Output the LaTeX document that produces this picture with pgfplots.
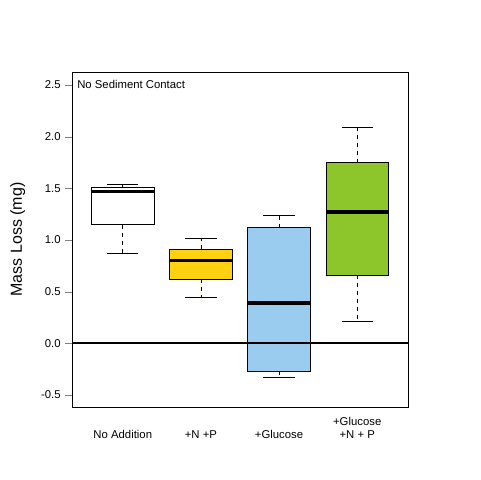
\documentclass[border=0pt]{standalone}
\usepackage{pgfplots}
\pgfplotsset{compat=1.18}
\usepgfplotslibrary{statistics}
\usepackage{fontspec}
\setmainfont{Liberation Sans}
\definecolor{cgold}{HTML}{FFD111}
\definecolor{cblue}{HTML}{99CCEE}
\definecolor{cgreen}{HTML}{8CC62B}
\begin{document}
\begin{tikzpicture}
\begin{axis}[name=ax, scale only axis, width=252pt, height=251.25pt,
  xmin=0.35, xmax=4.65, ymin=-0.616, ymax=2.626,
  xtick={1,2,3,4}, xticklabels={No Addition,+N +P,+Glucose,{+Glucose\\+N + P}},
  xticklabel style={align=center, anchor=south, yshift=-22pt, font=\fontsize{8.5}{9.5}\selectfont},
  x tick style={draw=none},
  ytick={-0.5,0,0.5,1,1.5,2,2.5},
  yticklabel style={font=\fontsize{8.5}{10}\selectfont, /pgf/number format/fixed, /pgf/number format/fixed zerofill, /pgf/number format/precision=1},
  /pgf/number format/assume math mode=true,
  tick align=outside, major tick length=5pt, ytick pos=left,
  ylabel={Mass Loss (mg)}, ylabel style={font=\fontsize{12}{14}\selectfont, yshift=5pt},
  axis line style={line width=0.6pt},
  boxplot/draw direction=y,
  boxplot/box extend=0.8, boxplot/whisker extend=0,
  boxplot/every whisker/.style={dashed, line width=0.6pt},
  boxplot/every median/.style={line width=2.6pt},
  boxplot/every box/.style={line width=0.6pt},
]
\addplot[draw=black, fill=white, boxplot prepared={draw position=1, lower whisker=0.87, lower quartile=1.15, median=1.47, upper quartile=1.51, upper whisker=1.54}] coordinates {};
\addplot[draw=black, fill=cgold, boxplot prepared={draw position=2, lower whisker=0.44, lower quartile=0.62, median=0.80, upper quartile=0.91, upper whisker=1.02}] coordinates {};
\addplot[draw=black, fill=cblue, boxplot prepared={draw position=3, lower whisker=-0.33, lower quartile=-0.27, median=0.39, upper quartile=1.12, upper whisker=1.24}] coordinates {};
\addplot[draw=black, fill=cgreen, boxplot prepared={draw position=4, lower whisker=0.21, lower quartile=0.66, median=1.27, upper quartile=1.75, upper whisker=2.09}] coordinates {};
\addplot[black, line width=0.6pt] coordinates {(0.8,0.87) (1.2,0.87)};
\addplot[black, line width=0.6pt] coordinates {(0.8,1.54) (1.2,1.54)};
\addplot[black, line width=0.6pt] coordinates {(1.8,0.44) (2.2,0.44)};
\addplot[black, line width=0.6pt] coordinates {(1.8,1.02) (2.2,1.02)};
\addplot[black, line width=0.6pt] coordinates {(2.8,-0.33) (3.2,-0.33)};
\addplot[black, line width=0.6pt] coordinates {(2.8,1.24) (3.2,1.24)};
\addplot[black, line width=0.6pt] coordinates {(3.8,0.21) (4.2,0.21)};
\addplot[black, line width=0.6pt] coordinates {(3.8,2.09) (4.2,2.09)};
\addplot[black, line width=1.4pt] coordinates {(0.35,0) (4.65,0)};
\node[anchor=north west, font=\fontsize{8.5}{10}\selectfont, inner sep=0pt] at (rel axis cs:0.015,0.975) {No Sediment Contact};
\end{axis}
\pgfresetboundingbox
\path[use as bounding box] ([shift={(-54pt,-54.75pt)}]ax.south west) rectangle ([shift={(54pt,54pt)}]ax.north east);
\end{tikzpicture}
\end{document}
